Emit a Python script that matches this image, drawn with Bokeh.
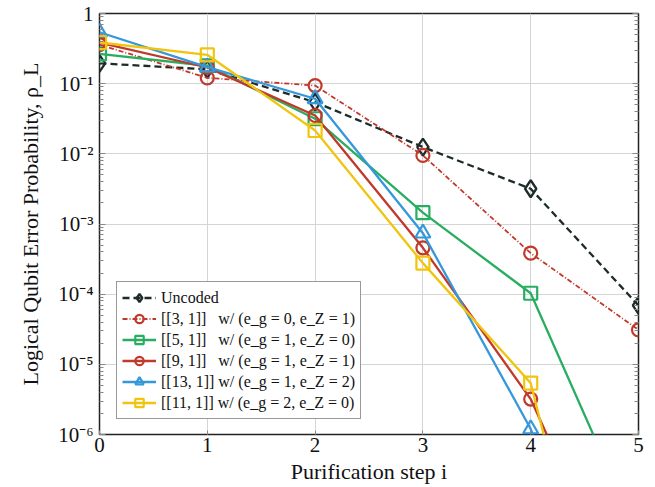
from bokeh.plotting import figure
from bokeh.models import Range1d, FixedTicker, CustomJSTickFormatter, LogAxis
from bokeh.embed import file_html
from bokeh.resources import INLINE

# ---------------- data ----------------
steps = [0, 1, 2, 3, 4, 5]
uncoded = [0.195, 0.16, 0.0545, 0.0125, 0.00318, 6.9e-5]
c3 = [0.36, 0.121, 0.094, 0.0095, 3.84e-4, 3.1e-5]
c5 = [0.265, 0.18, 0.0316, 0.00145, 1.03e-4, 3.5e-8]
c9 = [0.386, 0.17, 0.0352, 4.58e-4, 3.2e-6, 1.3e-9]
c13 = [0.54, 0.172, 0.061, 7.4e-4, 1.2e-6, 1.0e-10]
c11 = [0.386, 0.258, 0.0215, 2.77e-4, 5.4e-6, 4.5e-12]

series_labels = [
    "Uncoded",
    "[[3, 1]]\u2007 w/ (e_g = 0, e_Z = 1)",
    "[[5, 1]]\u2007 w/ (e_g = 1, e_Z = 0)",
    "[[9, 1]]\u2007 w/ (e_g = 1, e_Z = 1)",
    "[[13, 1]] w/ (e_g = 1, e_Z = 2)",
    "[[11, 1]] w/ (e_g = 2, e_Z = 0)",
]

x_ticks = [0, 1, 2, 3, 4, 5]
y_tick_values = [1e-6, 1e-5, 1e-4, 1e-3, 1e-2, 1e-1, 1.0]
y_tick_labels = ["10\u207b\u2076", "10\u207b\u2075", "10\u207b\u2074", "10\u207b\u00b3",
                 "10\u207b\u00b2", "10\u207b\u00b9", "1"]

x_label = "Purification step i"
y_label = "Logical Qubit Error Probability, \u03c1_L"

# ---------------- style ----------------
FONT = "Liberation Serif"
BLACK = "#1e2b2b"
RED = "#c0392b"
GREEN = "#27ae60"
BLUE = "#3498db"
YELLOW = "#f1c40f"

W, H = 655, 487
p = figure(width=W, height=H, y_axis_type="log", output_backend="svg",
           toolbar_location=None, x_range=Range1d(0, 5), y_range=Range1d(1e-6, 1),
           min_border_left=99, min_border_right=17, min_border_top=13,
           min_border_bottom=53)
p.background_fill_color = "white"
p.border_fill_color = "white"
p.outline_line_color = "#222222"
p.outline_line_width = 1.5

minor = [k * d for d in y_tick_values[:-1] for k in range(2, 10)]

# x axis
xa = p.xaxis[0]
xa.ticker = FixedTicker(ticks=x_ticks)
xa.major_label_text_font = FONT
xa.major_label_text_font_size = "21px"
xa.major_label_text_color = "#111111"
xa.major_tick_in = 4
xa.major_tick_out = 0
xa.minor_tick_line_color = None
xa.axis_line_color = None
xa.major_tick_line_color = "#888888"
xa.major_label_standoff = 3
xa.axis_label = x_label
xa.axis_label_text_font = FONT
xa.axis_label_text_font_size = "22px"
xa.axis_label_text_font_style = "normal"
xa.axis_label_text_color = "#111111"
xa.axis_label_standoff = 4

# y axis
ya = p.yaxis[0]
ya.ticker = FixedTicker(ticks=y_tick_values, minor_ticks=minor)
ya.formatter = CustomJSTickFormatter(args=dict(vals=y_tick_values, labs=y_tick_labels), code="""
const i = vals.findIndex(v => Math.abs(Math.log10(v) - Math.log10(tick)) < 1e-6);
return i >= 0 ? labs[i] : "";
""")
ya.major_label_text_font = FONT
ya.major_label_text_font_size = "21px"
ya.major_label_text_color = "#111111"
ya.major_tick_in = 6
ya.major_tick_out = 0
ya.minor_tick_in = 4
ya.minor_tick_out = 0
ya.major_tick_line_color = "#888888"
ya.minor_tick_line_color = "#888888"
ya.axis_line_color = None
ya.major_label_standoff = 6
ya.axis_label = y_label
ya.axis_label_text_font = FONT
ya.axis_label_text_font_size = "22px"
ya.axis_label_text_font_style = "normal"
ya.axis_label_text_color = "#111111"
ya.axis_label_standoff = 12

ra = LogAxis(ticker=FixedTicker(ticks=y_tick_values, minor_ticks=minor),
             formatter=CustomJSTickFormatter(code="return '';"))
ra.major_tick_in = 6
ra.major_tick_out = 0
ra.minor_tick_in = 4
ra.minor_tick_out = 0
ra.major_tick_line_color = "#888888"
ra.minor_tick_line_color = "#888888"
ra.axis_line_color = None
ra.major_label_standoff = 0
p.add_layout(ra, "right")

p.xgrid.grid_line_color = "#d5d5d5"
p.ygrid.grid_line_color = "#d5d5d5"
p.xgrid.ticker = FixedTicker(ticks=x_ticks)
p.ygrid.ticker = FixedTicker(ticks=y_tick_values)

# ---------------- series ----------------
LW = 2.3
p.line(steps, uncoded, color=BLACK, line_width=LW, line_dash="7 4", legend_label=series_labels[0])
p.scatter(steps, uncoded, marker="diamond", size=17, line_color=BLACK, fill_color=None,
          line_width=2.3, legend_label=series_labels[0])

p.line(steps, c3, color=RED, line_width=1.8, line_dash="5 2 1 2", legend_label=series_labels[1])
p.scatter(steps, c3, marker="circle", size=13, line_color=RED, fill_color=None,
          line_width=2.2, legend_label=series_labels[1])

p.line(steps, c5, color=GREEN, line_width=LW, legend_label=series_labels[2])
p.scatter(steps, c5, marker="square", size=13, line_color=GREEN, fill_color=None,
          line_width=2.2, legend_label=series_labels[2])

p.line(steps, c9, color=RED, line_width=LW, legend_label=series_labels[3])
p.scatter(steps, c9, marker="circle", size=13, line_color=RED, fill_color=None,
          line_width=2.2, legend_label=series_labels[3])

p.line(steps, c13, color=BLUE, line_width=LW, legend_label=series_labels[4])
p.scatter(steps, c13, marker="triangle", size=15, line_color=BLUE, fill_color=None,
          line_width=2.2, legend_label=series_labels[4])

p.line(steps, c11, color=YELLOW, line_width=LW, legend_label=series_labels[5])
p.scatter(steps, c11, marker="square", size=13, line_color=YELLOW, fill_color=None,
          line_width=2.2, legend_label=series_labels[5])

lg = p.legend[0]
lg.location = (17, 15)
lg.label_text_font = FONT
lg.label_text_font_size = "16px"
lg.label_text_color = "#111111"
lg.border_line_color = "#333333"
lg.border_line_width = 1
lg.background_fill_alpha = 1.0
lg.padding = 5
lg.spacing = 0
lg.margin = 0
lg.glyph_width = 34
lg.glyph_height = 21
lg.label_height = 21
lg.label_standoff = 5

open("out.html", "w").write(file_html(p, INLINE))
